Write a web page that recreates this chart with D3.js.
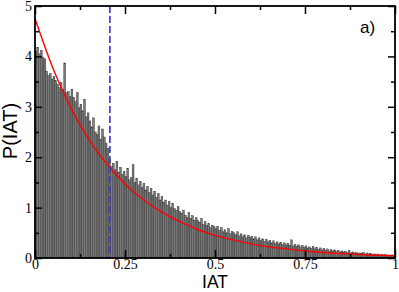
<!DOCTYPE html>
<html><head><meta charset="utf-8">
<script src="https://cdn.jsdelivr.net/npm/d3@7"></script>
<style>body{margin:0;background:#fff}svg{display:block}</style>
</head><body>
<script>
// Histogram of IAT: 200 bins of width 0.005 on [0,1]
const binStart = 0, binWidth = 0.005;
const histValues = [
 4.10,4.18,4.05,4.12,3.98,3.95,3.70,3.62,3.66,3.55,
 3.60,3.52,3.45,3.38,3.48,3.35,3.87,3.28,3.30,3.20,
 3.35,3.18,3.10,3.28,2.98,3.05,2.92,3.15,2.80,2.88,
 2.72,2.60,2.78,2.50,2.45,2.62,2.35,2.56,2.40,2.28,
 2.18,1.95,1.82,1.88,1.75,1.92,1.70,1.80,1.66,1.72,
 1.62,1.78,1.55,1.60,1.85,1.50,1.58,1.45,1.52,1.40,
 1.48,1.35,1.42,1.30,1.38,1.25,1.32,1.20,1.28,1.15,
 1.22,1.10,1.15,1.05,1.12,1.00,1.08,0.98,0.95,1.02,
 0.92,0.88,0.95,0.85,0.80,0.90,0.78,0.84,0.75,0.80,
 0.74,0.70,0.78,0.66,0.72,0.64,0.68,0.60,0.65,0.62,
 0.58,0.63,0.55,0.60,0.52,0.56,0.50,0.58,0.48,0.53,
 0.50,0.46,0.52,0.44,0.48,0.42,0.46,0.40,0.45,0.41,
 0.43,0.38,0.42,0.36,0.40,0.35,0.38,0.33,0.37,0.32,
 0.35,0.30,0.34,0.29,0.32,0.28,0.31,0.27,0.30,0.26,
 0.29,0.25,0.36,0.24,0.27,0.23,0.26,0.22,0.25,0.21,
 0.24,0.20,0.22,0.19,0.23,0.18,0.21,0.17,0.20,0.16,
 0.19,0.15,0.18,0.14,0.17,0.14,0.16,0.13,0.15,0.12,
 0.14,0.12,0.13,0.11,0.15,0.10,0.12,0.10,0.11,0.09,
 0.10,0.09,0.11,0.08,0.10,0.08,0.09,0.07,0.08,0.07,
 0.08,0.06,0.07,0.06,0.07,0.05,0.06,0.05,0.06,0.05
];
// Red fit curve
const fitX = [0,0.05,0.1,0.15,0.2,0.25,0.3,0.35,0.4,0.45,0.5,0.55,0.6,0.65,0.7,0.75,0.8,0.85,0.9,0.95,1.0];
const fitY = [4.75,3.76,2.97,2.35,1.86,1.47,1.16,0.92,0.73,0.57,0.45,0.36,0.28,0.22,0.18,0.14,0.11,0.088,0.07,0.055,0.044];
// Blue dashed marker
const markerX = 0.208;
// Ticks
const xTicks = [0,0.25,0.5,0.75,1];
const xTickLabels = ["0","0.25","0.5","0.75","1"];
const xMinor = [0.125,0.375,0.625,0.875];
const yTicks = [0,1,2,3,4,5];
const yTickLabels = ["0","1","2","3","4","5"];
const yMinor = [0.5,1.5,2.5,3.5,4.5];
const xTitle = "IAT", yTitle = "P(IAT)", panelLabel = "a)";

const W = 399, H = 292;
const L = 35, R = 395, T = 6, B = 258;
const svg = d3.select("body").append("svg").attr("width", W).attr("height", H);
const x = d3.scaleLinear().domain([0,1]).range([L,R]);
const y = d3.scaleLinear().domain([0,5]).range([B,T]);

// bars
svg.append("g").selectAll("rect").data(histValues).join("rect")
  .attr("x", (d,i) => x(binStart + i*binWidth))
  .attr("width", (d,i) => x(binStart + (i+1)*binWidth) - x(binStart + i*binWidth))
  .attr("y", d => y(d))
  .attr("height", d => y(0) - y(d))
  .attr("fill", "#7a7a7a")
  .attr("stroke", "#333")
  .attr("stroke-width", 0.45);

// fit curve
svg.append("path").datum(fitX.map((v,i)=>[v,fitY[i]]))
  .attr("d", d3.line().x(d=>x(d[0])).y(d=>y(d[1])).curve(d3.curveMonotoneX))
  .attr("fill","none").attr("stroke","#ff0000").attr("stroke-width",1.4);

// blue dashed line
svg.append("line").attr("x1", x(markerX)).attr("x2", x(markerX))
  .attr("y1", y(5)).attr("y2", y(0))
  .attr("stroke","#3c3ce0").attr("stroke-width",1.7).attr("stroke-dasharray","7,3");

// axes with inward ticks
const fmtX = (d,i) => xTickLabels[i];
const fmtY = (d,i) => yTickLabels[i];
const axB = d3.axisBottom(x).tickValues(xTicks).tickFormat(fmtX).tickSizeInner(-8).tickSizeOuter(0).tickPadding(1);
const axT = d3.axisTop(x).tickValues(xTicks).tickFormat("").tickSizeInner(-8).tickSizeOuter(0);
const axL = d3.axisLeft(y).tickValues(yTicks).tickFormat(fmtY).tickSizeInner(-7).tickSizeOuter(0).tickPadding(3);
const axR = d3.axisRight(y).tickValues(yTicks).tickFormat("").tickSizeInner(-7).tickSizeOuter(0);
const mB = d3.axisBottom(x).tickValues(xMinor).tickFormat("").tickSizeInner(-4).tickSizeOuter(0);
const mT = d3.axisTop(x).tickValues(xMinor).tickFormat("").tickSizeInner(-4).tickSizeOuter(0);
const mL = d3.axisLeft(y).tickValues(yMinor).tickFormat("").tickSizeInner(-4).tickSizeOuter(0);
const mR = d3.axisRight(y).tickValues(yMinor).tickFormat("").tickSizeInner(-4).tickSizeOuter(0);

function place(ax, tx, ty){
  const g = svg.append("g").attr("transform",`translate(${tx},${ty})`).call(ax);
  g.attr("font-family", null);
  g.select(".domain").remove();
  g.selectAll("line").attr("stroke","#000").attr("stroke-width",1.5);
  g.selectAll("text").style("font-family","'Liberation Serif','Times New Roman',serif").attr("font-size",14).attr("fill","#000");
  return g;
}
place(axB,0,B); place(axT,0,T); place(axL,L,0); place(axR,R,0);
place(mB,0,B); place(mT,0,T); place(mL,L,0); place(mR,R,0);

// frame
svg.append("rect").attr("x",L).attr("y",T).attr("width",R-L).attr("height",B-T)
  .attr("fill","none").attr("stroke","#000").attr("stroke-width",1.8);

// titles
svg.append("text").attr("x",215).attr("y",288).attr("text-anchor","middle")
  .attr("font-family","'Liberation Sans',Arial,sans-serif").attr("font-size",17.5).text(xTitle);
svg.append("text").attr("transform","translate(17,131) rotate(-90)").attr("text-anchor","middle")
  .attr("font-family","'Liberation Sans',Arial,sans-serif").attr("font-size",20).text(yTitle);
svg.append("text").attr("x",360).attr("y",33)
  .attr("font-family","'Liberation Sans',Arial,sans-serif").attr("font-size",17).text(panelLabel);
</script>
</body></html>
